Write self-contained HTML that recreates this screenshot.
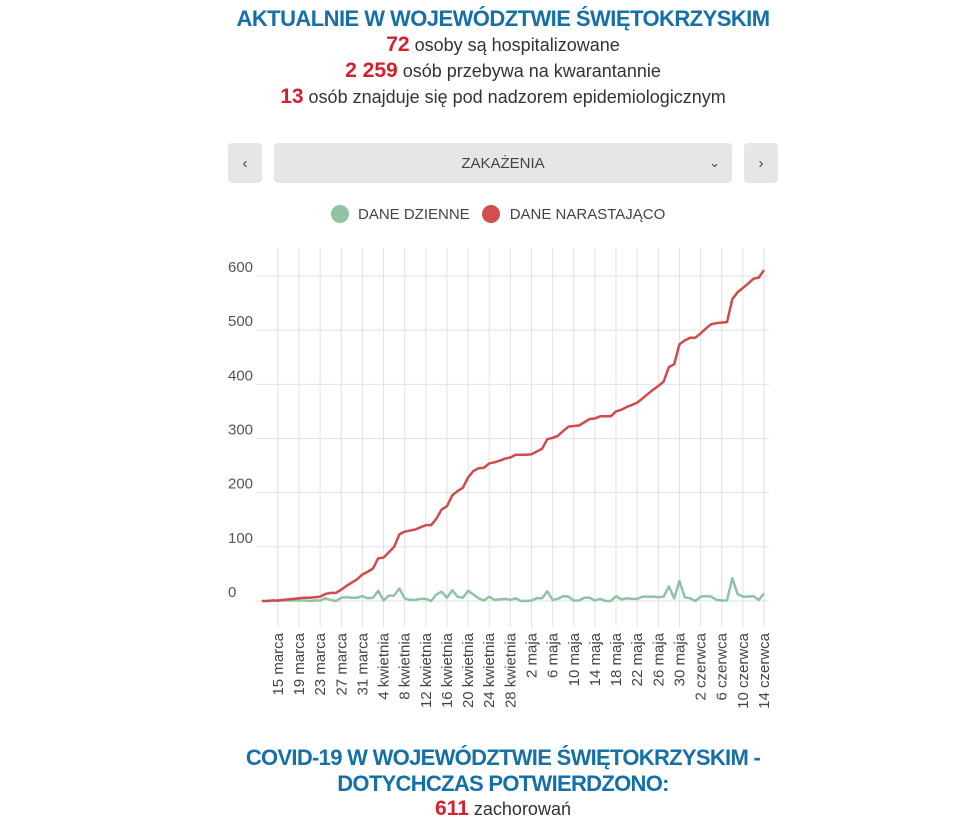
<!DOCTYPE html>
<html><head><meta charset="utf-8">
<style>
body{margin:0;background:#fff;width:978px;height:824px;overflow:hidden;font-family:"Liberation Sans",sans-serif;position:relative}
.c{position:absolute;left:228px;width:550px;text-align:center}
.t{color:#1670a8;font-weight:bold;font-size:22px;letter-spacing:-0.55px}
.l{color:#333;font-size:18px}
.n{color:#d3202e;font-weight:bold;font-size:21px}
.btn{position:absolute;top:143px;height:40px;background:#e6e6e6;border-radius:4px;color:#444;font-size:15px;display:flex;align-items:center;justify-content:center}
</style></head><body>
<div class="c t" style="top:6px">AKTUALNIE W WOJEWÓDZTWIE ŚWIĘTOKRZYSKIM</div>
<div class="c l" style="top:33px"><span class="n">72</span> osoby są hospitalizowane</div>
<div class="c l" style="top:59px"><span class="n">2 259</span> osób przebywa na kwarantannie</div>
<div class="c l" style="top:85px"><span class="n">13</span> osób znajduje się pod nadzorem epidemiologicznym</div>
<div class="btn" style="left:228px;width:34px">&#8249;</div>
<div class="btn" style="left:274px;width:458px">ZAKAŻENIA<span style="position:absolute;right:12px;font-size:13px">&#8964;</span></div>
<div class="btn" style="left:744px;width:34px">&#8250;</div>
<div style="position:absolute;top:205px;left:331px;font-size:15px;color:#444;display:flex;align-items:center">
<span style="width:18px;height:18px;border-radius:50%;background:#8fc3a4;display:inline-block"></span><span style="margin-left:9px">DANE DZIENNE</span>
<span style="width:18px;height:18px;border-radius:50%;background:#d34e4f;display:inline-block;margin-left:12px"></span><span style="margin-left:10px">DANE NARASTAJĄCO</span>
</div>
<svg id="chart" style="position:absolute;left:0;top:0" width="978" height="740"></svg>
<div class="c t" style="top:745px;line-height:26px;letter-spacing:-0.7px">COVID-19 W WOJEWÓDZTWIE ŚWIĘTOKRZYSKIM -<br>DOTYCHCZAS POTWIERDZONO:</div>
<div class="c l" style="top:797px"><span class="n">611</span> zachorowań</div>
<script>
const daily=[0,0,1,0,1,1,1,1,1,0,1,1,5,2,0,6,7,6,6,9,5,6,19,1,10,10,23,5,2,2,4,4,0,12,17,6,20,8,6,19,12,5,1,8,2,3,4,2,5,0,0,1,5,5,18,2,4,9,8,1,1,6,6,1,4,0,0,9,3,5,4,4,8,8,8,7,8,27,5,37,7,5,0,8,9,8,2,1,1,42,13,8,8,9,2,14];
const yTicks=[0,100,200,300,400,500,600];
const xTickLabels=["15 marca","19 marca","23 marca","27 marca","31 marca","4 kwietnia","8 kwietnia","12 kwietnia","16 kwietnia","20 kwietnia","24 kwietnia","28 kwietnia","2 maja","6 maja","10 maja","14 maja","18 maja","22 maja","26 maja","30 maja","2 czerwca","6 czerwca","10 czerwca","14 czerwca"];
const cumulative=[];let s=0;for(const d of daily){s+=d;cumulative.push(s);}
const NS="http://www.w3.org/2000/svg",svg=document.getElementById('chart');
const x0=262,x1=764,y0=601,y600=276;
const X=i=>x0+(x1-x0)*i/(daily.length-1);
const Y=v=>y0-(y0-y600)*v/600;
function mk(t,a){const e=document.createElementNS(NS,t);for(const k in a)e.setAttribute(k,a[k]);svg.appendChild(e);return e;}
yTicks.forEach(v=>{
 const g=mk('line',{x1:256,x2:769,y1:Y(v),y2:Y(v),stroke:'#e2e2e2','stroke-width':1});
 
 
 const t=mk('text',{x:228,y:Y(v)-4,'font-size':15,fill:'#555','font-family':'Liberation Sans,sans-serif'});t.textContent=v;
 
 
});
const n=xTickLabels.length;
xTickLabels.forEach((lab,k)=>{
 const i=daily.length-1-4*(n-1-k),x=X(i);
 const g=mk('line',{x1:x,x2:x,y1:248,y2:627,stroke:'#e2e2e2','stroke-width':1});
 
 
 const t=mk('text',{x:0,y:0,'font-size':15,fill:'#444','text-anchor':'end','font-family':'Liberation Sans,sans-serif',transform:`translate(${x+5},633) rotate(-90)`});t.textContent=lab;
 
 
});
function line(arr,col){return mk('polyline',{points:arr.map((v,i)=>X(i)+','+Y(v)).join(' '),fill:'none',stroke:col,'stroke-width':2.5,'stroke-linejoin':'round'});}
const gl=line(daily,'#8fc3a4');


const rl=line(cumulative,'#cf4b4c');


</script>
</body></html>
